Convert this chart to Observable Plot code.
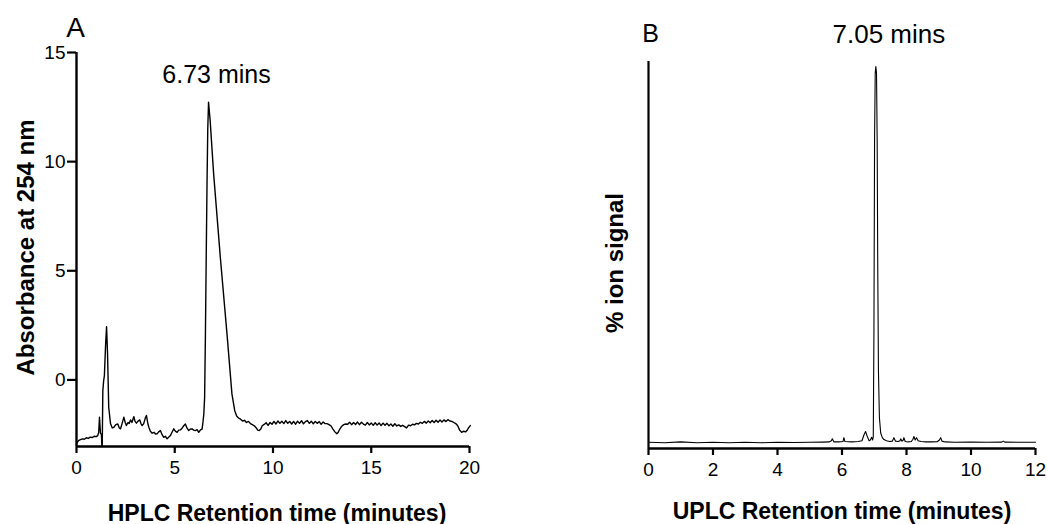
<!DOCTYPE html>
<html>
<head>
<meta charset="utf-8">
<script src="https://cdn.jsdelivr.net/npm/d3@7"></script>
<script src="https://cdn.jsdelivr.net/npm/@observablehq/plot@0.6"></script>
<style>
  html, body { margin: 0; padding: 0; background: #fff; }
  #wrap { position: relative; width: 1047px; height: 524px; overflow: hidden; background: #fff; }
  #wrap svg { position: absolute; top: 0; max-width: none; }
</style>
</head>
<body>
<div id="wrap"></div>
<script>
// ---------- Panel A : HPLC (absorbance at 254 nm) ----------
const hplcTime = [0,0.05,0.1,0.2,0.3,0.4,0.5,0.6,0.7,0.8,0.9,1.0,1.08,1.13,1.17,1.22,1.27,1.29,1.31,1.34,1.38,1.42,1.48,1.53,1.58,1.64,1.73,1.82,1.9,2.0,2.1,2.18,2.24,2.32,2.41,2.48,2.54,2.62,2.68,2.75,2.82,2.92,2.98,3.05,3.12,3.22,3.28,3.34,3.42,3.5,3.56,3.62,3.68,3.76,3.85,3.95,4.02,4.1,4.18,4.27,4.35,4.44,4.52,4.61,4.7,4.78,4.86,4.95,5.03,5.12,5.2,5.29,5.38,5.46,5.54,5.62,5.71,5.8,5.88,5.96,6.05,6.14,6.22,6.31,6.39,6.44,6.48,6.52,6.56,6.6,6.64,6.68,6.72,6.8,6.98,7.32,7.66,7.91,8.05,8.15,8.25,8.35,8.45,8.55,8.65,8.75,8.85,8.95,9.05,9.15,9.22,9.3,9.38,9.45,9.55,9.65,9.75,9.85,9.95,10.05,10.15,10.25,10.35,10.45,10.55,10.65,10.75,10.85,10.95,11.05,11.15,11.25,11.35,11.45,11.55,11.65,11.75,11.85,11.95,12.05,12.15,12.25,12.35,12.45,12.55,12.65,12.75,12.85,12.95,13.05,13.15,13.25,13.32,13.4,13.5,13.6,13.7,13.8,13.9,14.0,14.1,14.2,14.3,14.4,14.5,14.6,14.7,14.8,14.9,15.0,15.1,15.2,15.3,15.4,15.5,15.6,15.7,15.8,15.9,16.0,16.1,16.2,16.3,16.4,16.5,16.6,16.7,16.8,16.9,17.0,17.1,17.2,17.3,17.4,17.5,17.6,17.7,17.8,17.9,18.0,18.1,18.2,18.3,18.4,18.5,18.6,18.7,18.8,18.9,19.0,19.1,19.2,19.3,19.4,19.5,19.6,19.7,19.8,19.87,19.95,20.04];
const hplcAbs = [-2.95,-2.85,-2.78,-2.74,-2.70,-2.72,-2.65,-2.68,-2.62,-2.64,-2.58,-2.60,-2.55,-2.4,-1.71,-2.45,-2.5,-3.05,-3.0,-0.5,-0.05,0.2,1.6,2.44,1.2,-1.25,-2.0,-2.2,-2.17,-2.05,-2.02,-2.2,-2.24,-2.0,-1.71,-1.95,-2.09,-1.95,-2.0,-1.83,-1.95,-1.68,-1.9,-1.98,-1.9,-1.83,-2.0,-2.09,-2.0,-1.75,-1.63,-1.95,-2.17,-2.35,-2.44,-2.4,-2.48,-2.47,-2.38,-2.32,-2.5,-2.63,-2.58,-2.7,-2.62,-2.55,-2.4,-2.24,-2.35,-2.4,-2.3,-2.29,-2.2,-2.1,-2.02,-2.2,-2.32,-2.25,-2.24,-2.3,-2.32,-2.28,-2.4,-2.29,-2.25,-1.9,-1.56,-0.8,2.0,5.5,8.8,11.5,12.72,11.9,9.43,5.61,2.1,-0.64,-1.4,-1.65,-1.75,-1.8,-1.88,-1.85,-1.95,-1.9,-2.0,-2.05,-2.1,-2.2,-2.3,-2.32,-2.25,-2.1,
  -2.04,-1.96,-2.08,-1.95,-2.03,-1.9,-2.02,-1.88,-1.99,-1.89,-2.0,-1.86,-1.99,-1.9,-2.02,-1.9,-2.03,-1.89,-1.99,-1.87,-2.01,-1.91,-1.86,-1.99,-1.89,-2.01,-1.9,-1.99,-1.91,-2.03,-1.93,-2.0,
  -2.0,-2.05,-2.1,-2.25,-2.38,-2.47,-2.4,-2.25,-2.12,-2.05,-2.02,
  -2.03,-1.94,-2.05,-1.95,-2.04,-1.93,-2.05,-1.94,-2.02,-2.07,-1.95,-2.06,-1.97,-2.08,-1.96,-2.07,-1.97,-2.09,-1.98,-2.08,-1.99,-2.1,-2.02,-2.12,-2.01,-2.11,-2.06,-2.13,-2.08,-2.14,-2.2,-2.07,-2.1,-2.03,-2.06,-1.99,-2.02,-1.94,-1.99,-1.9,-1.98,-1.88,-1.96,-1.86,-1.95,-1.85,-1.94,-1.84,-1.93,-1.83,-1.91,-1.82,-1.88,
  -1.9,-1.95,-2.0,-2.1,-2.3,-2.4,-2.35,-2.38,-2.32,-2.2,-2.09];
const xTicksA = [0, 5, 10, 15, 20];
const yTicksA = [0, 5, 10, 15];
const yDomainA = [-3.05, 15];
const peakTimeA = [6.72];
const peakValueA = [12.72];
const peakLabelA = ["6.73 mins"];

// ---------- Panel B : UPLC (% ion signal) ----------
const uplcTime = [0,0.5,1.0,1.5,2,2.5,3,3.5,4,4.5,5,5.4,5.6,5.67,5.7,5.75,5.9,6.03,6.06,6.09,6.3,6.5,6.62,6.68,6.73,6.78,6.84,6.88,6.92,6.95,6.97,6.99,7.01,7.03,7.05,7.07,7.09,7.11,7.13,7.16,7.2,7.25,7.3,7.38,7.48,7.56,7.61,7.66,7.74,7.8,7.82,7.86,7.9,7.92,7.96,8.05,8.15,8.2,8.23,8.27,8.31,8.36,8.45,8.6,8.8,8.95,9.02,9.06,9.1,9.2,9.5,10.0,10.5,10.95,11.0,11.05,11.5,12.0];
const uplcSignal = [1.6,1.5,1.7,1.5,1.6,1.5,1.6,1.5,1.6,1.55,1.6,1.65,1.7,2.0,2.5,1.7,1.7,1.8,2.8,1.8,1.7,1.8,2.0,3.5,4.4,3.2,2.0,2.2,2.9,2.2,3.0,30,80,97,98.7,97,80,45,20,8,4,2.8,2.3,2.0,1.8,1.9,2.8,1.9,1.8,2.0,2.5,1.9,2.2,2.8,1.8,1.7,1.8,2.4,3.1,2.2,2.8,2.0,1.8,1.7,1.7,1.75,2.2,2.8,1.9,1.7,1.6,1.65,1.6,1.65,1.9,1.65,1.6,1.6];
const xTicksB = [0, 2, 4, 6, 8, 10, 12];
const yDomainB = [0, 100];
const peakTimeB = [7.05];
const peakValueB = [98.7];
const peakLabelB = ["7.05 mins"];

const FONT = "'Liberation Sans', Arial, Helvetica, sans-serif";

const hplc = hplcTime.map((t, i) => ({t, v: hplcAbs[i]}));
const uplc = uplcTime.map((t, i) => ({t, v: uplcSignal[i]}));
const peaksA = peakTimeA.map((t, i) => ({t, v: peakValueA[i], label: peakLabelA[i]}));
const peaksB = peakTimeB.map((t, i) => ({t, v: peakValueB[i], label: peakLabelB[i]}));

const chartA = Plot.plot({
  width: 560, height: 524,
  marginLeft: 76, marginRight: 91, marginTop: 52, marginBottom: 78,
  x: {domain: [0, 20]},
  y: {domain: yDomainA},
  style: {fontFamily: FONT, fontSize: "19px", color: "black", background: "white", overflow: "visible"},
  marks: [
    Plot.axisX(xTicksA, {tickSize: 7, tickPadding: 7, fontSize: 19, strokeWidth: 2.2, label: null}),
    Plot.axisY(yTicksA, {tickSize: 9, tickPadding: 2, fontSize: 19, strokeWidth: 2.2, label: null}),
    Plot.ruleX([0], {y1: yDomainA[0], y2: yDomainA[1], strokeWidth: 2.4}),
    Plot.ruleY([yDomainA[0]], {x1: 0, x2: 20, strokeWidth: 2.4}),
    Plot.line(hplc, {x: "t", y: "v", strokeWidth: 1.4, stroke: "black"}),
    Plot.text(peaksA, {x: "t", y: "v", text: "label", dx: 8, dy: -19, lineAnchor: "bottom", fontSize: 25}),
    Plot.text(["A"], {frameAnchor: "top-left", dx: -1, dy: -16, lineAnchor: "bottom", textAnchor: "middle", fontSize: 28}),
    Plot.text(["HPLC Retention time (minutes)"], {frameAnchor: "bottom", dx: 4, dy: 74, lineAnchor: "bottom", textAnchor: "middle", fontSize: 23, fontWeight: "bold"}),
    Plot.text(["Absorbance at 254 nm"], {frameAnchor: "left", dx: -43, dy: -2, rotate: -90, lineAnchor: "bottom", textAnchor: "middle", fontSize: 24, fontWeight: "bold"})
  ]
});

const chartB = Plot.plot({
  width: 487, height: 524,
  marginLeft: 88, marginRight: 12, marginTop: 61, marginBottom: 76,
  x: {domain: [0, 12]},
  y: {domain: yDomainB, axis: null},
  style: {fontFamily: FONT, fontSize: "19px", color: "black", background: "transparent", overflow: "visible"},
  marks: [
    Plot.axisX(xTicksB, {tickSize: 7, tickPadding: 7, fontSize: 19, strokeWidth: 2.2, label: null}),
    Plot.ruleX([0], {y1: yDomainB[0], y2: yDomainB[1], strokeWidth: 2.2}),
    Plot.ruleY([yDomainB[0]], {x1: 0, x2: 12, strokeWidth: 2.4}),
    Plot.line(uplc, {x: "t", y: "v", strokeWidth: 1.1, stroke: "black"}),
    Plot.text(peaksB, {x: "t", y: "v", text: "label", dx: 13, dy: -24, lineAnchor: "bottom", fontSize: 26}),
    Plot.text(["B"], {frameAnchor: "top-left", dx: 2, dy: -20, lineAnchor: "bottom", textAnchor: "middle", fontSize: 25}),
    Plot.text(["UPLC Retention time (minutes)"], {frameAnchor: "bottom", dy: 70, lineAnchor: "bottom", textAnchor: "middle", fontSize: 23, fontWeight: "bold"}),
    Plot.text(["% ion signal"], {frameAnchor: "left", dx: -26, dy: 8, rotate: -90, lineAnchor: "bottom", textAnchor: "middle", fontSize: 24, fontWeight: "bold"})
  ]
});

chartA.style.left = "0px";
chartB.style.left = "560px";
const wrap = document.getElementById("wrap");
wrap.appendChild(chartA);
wrap.appendChild(chartB);
</script>
</body>
</html>
